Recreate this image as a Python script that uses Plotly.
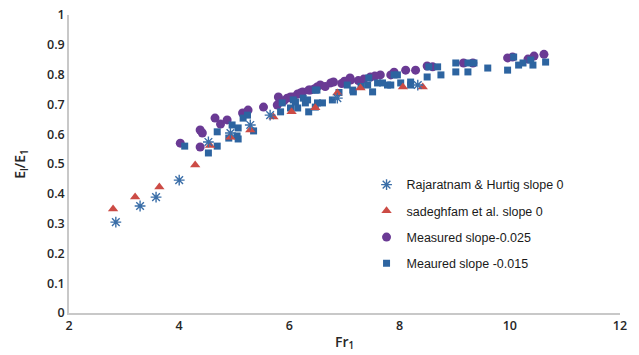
import plotly.graph_objects as go

# Rajaratnam & Hurtig slope 0
raj_x = [2.85, 3.29, 3.58, 4.0, 4.53, 4.93, 5.29, 5.65, 6.87, 8.33]
raj_y = [0.305, 0.359, 0.389, 0.446, 0.574, 0.604, 0.631, 0.664, 0.721, 0.765]

# sadeghfam et al. slope 0
sad_x = [2.80, 3.20, 3.64, 4.29, 4.56, 4.93, 5.29, 5.71, 6.04, 6.47, 6.87, 7.29, 8.06, 8.42]
sad_y = [0.349, 0.389, 0.423, 0.497, 0.562, 0.590, 0.614, 0.658, 0.675, 0.689, 0.738, 0.755, 0.758, 0.758]

# Measured slope-0.025
mea_x = [4.02, 4.38, 4.42, 4.38, 4.65, 4.75, 4.87, 5.15, 5.25, 5.53, 5.80, 5.78, 5.96, 6.07,
         6.24, 6.35, 6.50, 6.02, 6.38, 6.56, 6.75, 6.80, 7.10, 7.11, 7.47, 7.65, 7.84, 8.11,
         8.29, 8.50, 8.60, 9.16, 9.33, 9.96, 10.05, 10.33, 10.44, 10.62, 6.15, 6.65, 6.95,
         7.25, 7.35, 7.00, 7.55, 6.45, 5.90, 6.20, 7.90]
mea_y = [0.570, 0.614, 0.604, 0.557, 0.654, 0.634, 0.648, 0.671, 0.681, 0.691, 0.725, 0.698, 0.721, 0.725,
         0.742, 0.748, 0.758, 0.725, 0.748, 0.765, 0.772, 0.775, 0.789, 0.782, 0.792, 0.799, 0.799, 0.815,
         0.815, 0.829, 0.826, 0.839, 0.839, 0.856, 0.859, 0.852, 0.862, 0.868, 0.735, 0.760, 0.770,
         0.780, 0.785, 0.778, 0.795, 0.752, 0.712, 0.738, 0.808]

# Meaured slope -0.015
mes_x = [4.10, 4.53, 4.69, 4.69, 4.90, 4.96, 5.05, 5.07, 5.07, 5.16, 5.24, 5.35, 5.84, 5.87,
         6.02, 6.11, 6.15, 6.25, 6.29, 6.35, 6.47, 6.47, 6.33, 6.50, 6.78, 7.05, 7.16, 7.42,
         7.51, 7.69, 7.78, 7.90, 8.02, 8.20, 8.20, 8.50, 8.53, 8.69, 8.75, 9.02, 9.02, 9.24,
         9.24, 9.35, 9.60, 9.96, 10.07, 10.16, 10.24, 10.42, 10.38, 10.65, 6.07, 6.51, 6.60,
         7.15, 7.44, 7.60, 7.84, 7.96, 6.90, 7.30]
mes_y = [0.560, 0.537, 0.560, 0.608, 0.587, 0.631, 0.594, 0.584, 0.621, 0.654, 0.664, 0.611, 0.675, 0.705,
         0.688, 0.708, 0.688, 0.721, 0.705, 0.675, 0.691, 0.748, 0.715, 0.748, 0.715, 0.765, 0.742, 0.765,
         0.742, 0.772, 0.765, 0.799, 0.772, 0.765, 0.775, 0.792, 0.826, 0.826, 0.799, 0.839, 0.809, 0.839,
         0.809, 0.839, 0.822, 0.815, 0.859, 0.832, 0.839, 0.832, 0.849, 0.842, 0.715, 0.705, 0.705,
         0.748, 0.789, 0.772, 0.765, 0.799, 0.740, 0.760]

x_ticks = [2, 4, 6, 8, 10, 12]
y_ticks = [0, 0.1, 0.2, 0.3, 0.4, 0.5, 0.6, 0.7, 0.8, 0.9, 1]

fig = go.Figure()
fig.add_trace(go.Scatter(x=mea_x, y=mea_y, mode="markers", name="Measured slope-0.025",
                         legendgroup="c", legendrank=3,
                         marker=dict(symbol="circle", size=9, color="#6a3a94")))
fig.add_trace(go.Scatter(x=mes_x, y=mes_y, mode="markers", name="Meaured slope -0.015",
                         legendgroup="d", legendrank=4,
                         marker=dict(symbol="square", size=7, color="#2d64a0")))
fig.add_trace(go.Scatter(x=sad_x, y=sad_y, mode="markers", name="sadeghfam et al. slope 0",
                         legendgroup="b", legendrank=2,
                         marker=dict(symbol="triangle-up", size=9, color="#cc4b45")))
fig.add_trace(go.Scatter(x=raj_x, y=raj_y, mode="markers", name="Rajaratnam & Hurtig slope 0",
                         legendgroup="a", legendrank=1,
                         marker=dict(symbol="asterisk-open", size=9, color="#3a6ea8",
                                     line=dict(color="#3a6ea8", width=1.4))))

tick_font = dict(family="Open Sans, sans-serif", size=12.5, color="#262626", weight=600)
fig.update_layout(
    width=639, height=355,
    margin=dict(l=69, r=19, t=15, b=42),
    paper_bgcolor="white", plot_bgcolor="white",
    font=dict(family="Liberation Sans, Arial, sans-serif", size=12, color="#262626"),
    legend=dict(x=0.54, y=0.48, xanchor="left", yanchor="top",
                bgcolor="rgba(0,0,0,0)", tracegroupgap=7,
                font=dict(size=12.5, color="#1a1a1a"), itemwidth=30),
    xaxis=dict(range=[2, 12], tickvals=x_ticks, showgrid=False, zeroline=False,
               showline=True, linecolor="#c8c8c8", linewidth=1.5, ticks="",
               tickfont=tick_font, automargin=False,
               title=dict(text="Fr<sub>1</sub>",
                          font=dict(family="Open Sans, sans-serif", size=14, weight=600, color="#262626"),
                          standoff=4)),
    yaxis=dict(range=[0, 1], tickvals=y_ticks, ticktext=[str(v) for v in y_ticks],
               showgrid=False, zeroline=False,
               showline=True, linecolor="#c8c8c8", linewidth=1.5, ticks="",
               tickfont=tick_font, automargin=False,
               title=dict(text="E<sub>l</sub>/E<sub>1</sub>",
                          font=dict(family="Open Sans, sans-serif", size=14, weight=600, color="#262626"),
                          standoff=18)),
)

fig.write_html("out.html")
